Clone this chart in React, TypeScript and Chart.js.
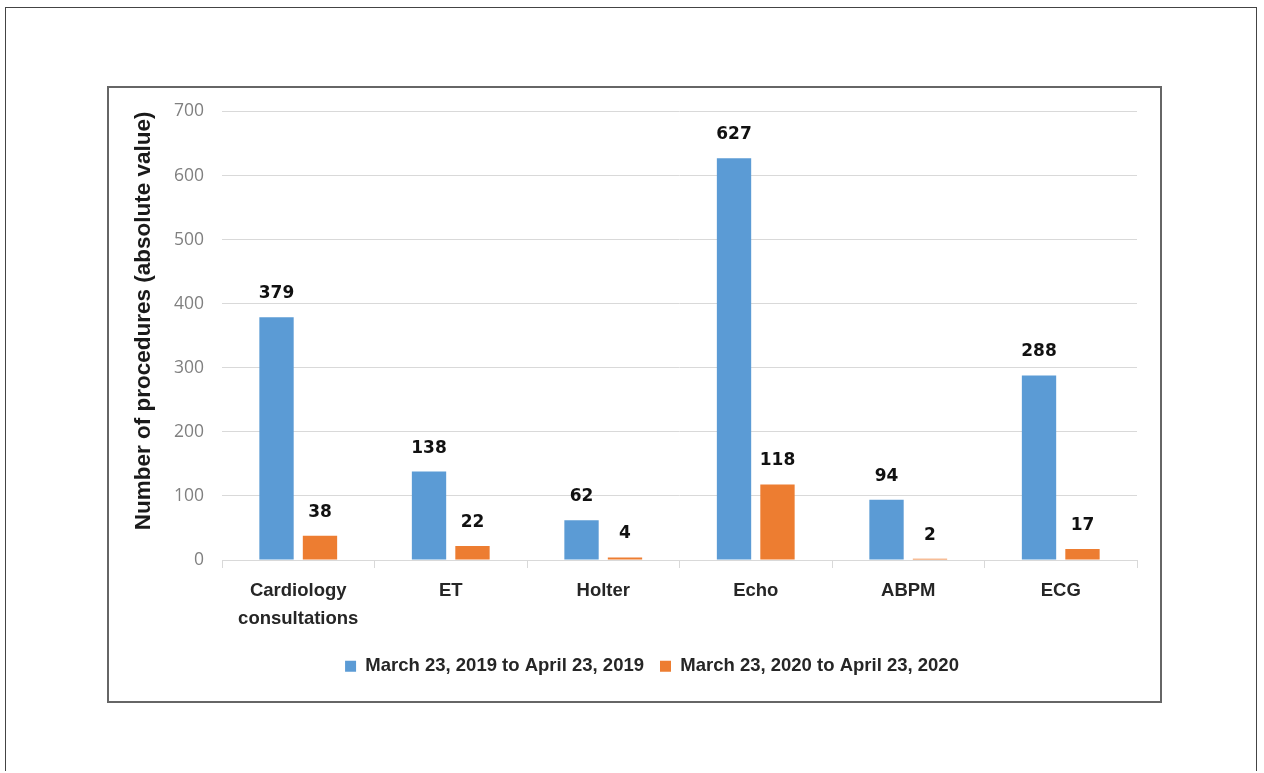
import React, { useEffect, useRef } from "react";
import { Chart, registerables } from "chart.js";

Chart.register(...registerables);

const categories: (string | string[])[] = [
  ["Cardiology", "consultations"],
  "ET",
  "Holter",
  "Echo",
  "ABPM",
  "ECG",
];
const seriesNames = [
  "March 23, 2019 to April 23, 2019",
  "March 23, 2020 to April 23, 2020",
];
const values2019 = [379, 138, 62, 627, 94, 288];
const values2020 = [38, 22, 4, 118, 2, 17];
const yMin = 0;
const yMax = 700;
const yStep = 100;
const yTitle = "Number of procedures (absolute value)";

const BLUE = "#5B9BD5";
const ORANGE = "#ED7D31";
const GRID = "#D9D9D9";

const valueLabels = {
  id: "valueLabels",
  afterDatasetsDraw(chart: any) {
    const ctx = chart.ctx;
    ctx.save();
    ctx.font = "bold 17px 'DejaVu Sans', sans-serif";
    ctx.fillStyle = "#111111";
    ctx.textAlign = "center";
    ctx.textBaseline = "bottom";
    chart.data.datasets.forEach((ds: any, di: number) => {
      const meta = chart.getDatasetMeta(di);
      meta.data.forEach((bar: any, i: number) => {
        ctx.fillText(String(ds.data[i]), bar.x, bar.y - 15);
      });
    });
    ctx.restore();
  },
};

export default function App() {
  const ref = useRef<HTMLCanvasElement | null>(null);

  useEffect(() => {
    document.body.style.overflow = "hidden";
    const canvas = ref.current;
    if (!canvas) return;
    const chart = new Chart(canvas, {
      type: "bar",
      data: {
        labels: categories,
        datasets: [
          {
            label: seriesNames[0],
            data: values2019,
            backgroundColor: BLUE,
            categoryPercentage: 0.57,
            barPercentage: 0.79,
          },
          {
            label: seriesNames[1],
            data: values2020,
            backgroundColor: ORANGE,
            categoryPercentage: 0.57,
            barPercentage: 0.79,
          },
        ],
      },
      options: {
        animation: false,
        responsive: false,
        devicePixelRatio: 1,
        layout: { padding: { left: 58, right: 22, top: 18, bottom: 14.5 } },
        plugins: {
          tooltip: { enabled: false },
          legend: {
            position: "bottom",
            labels: {
              boxWidth: 11,
              boxHeight: 11,
              padding: 16,
              color: "#262626",
              font: { family: "'Liberation Sans', Arial, sans-serif", size: 18.5, weight: "bold" },
            },
          },
        },
        scales: {
          x: {
            grid: {
              offset: true,
              drawOnChartArea: false,
              drawTicks: true,
              tickLength: 8,
              color: GRID,
            },
            border: { display: true, color: GRID, width: 1 },
            ticks: {
              padding: 9,
              color: "#262626",
              maxRotation: 0,
              autoSkip: false,
              font: { family: "'Liberation Sans', Arial, sans-serif", size: 18.5, weight: "bold", lineHeight: 1.5 },
            },
            afterFit(scale: any) {
              scale.height = 81;
            },
          },
          y: {
            min: yMin,
            max: yMax,
            ticks: {
              stepSize: yStep,
              padding: 18,
              color: "#808080",
              font: { family: "'Open Sans', sans-serif", size: 17.5 },
            },
            grid: { color: GRID, drawTicks: false, lineWidth: 1 },
            border: { display: false },
            title: {
              display: true,
              text: yTitle,
              align: "end",
              color: "#1a1a1a",
              font: { family: "'Liberation Sans', Arial, sans-serif", size: 22.5, weight: "bold", lineHeight: 1.2 },
              padding: { top: -37, bottom: 0 },
            },
            afterFit(scale: any) {
              scale.width = 55;
            },
          },
        },
      },
      plugins: [valueLabels],
    });
    return () => chart.destroy();
  }, []);

  return (
    <div>
      <div
        style={{
          position: "absolute",
          left: 5,
          top: 7,
          width: 1252,
          height: 764,
          boxSizing: "border-box",
          borderTop: "1px solid #444",
          borderLeft: "1px solid #444",
          borderRight: "1px solid #444",
        }}
      />
      <div
        style={{
          position: "absolute",
          left: 107,
          top: 86,
          width: 1055,
          height: 617,
          boxSizing: "border-box",
          border: "2px solid #666",
        }}
      />
      <canvas
        ref={ref}
        width={1050}
        height={617}
        style={{ position: "absolute", left: 109, top: 83, width: 1050, height: 617 }}
      />
    </div>
  );
}
